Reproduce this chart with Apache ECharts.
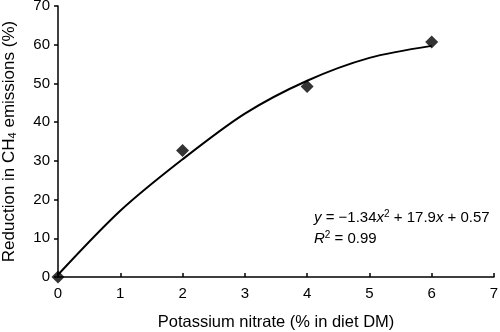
<!DOCTYPE html>
<html>
<head>
<meta charset="utf-8">
<script src="https://cdn.jsdelivr.net/npm/echarts@6/dist/echarts.min.js"></script>
<style>
  html, body { margin: 0; padding: 0; background: #fff; }
  #main { width: 500px; height: 332px; }
</style>
</head>
<body>
<div id="main"></div>
<script>
// measured points
var doses = [0, 2, 4, 6];
var reduction = [0, 32.7, 49.2, 60.7];

// fitted curve
var curveX = [0, 1, 2, 3, 4, 5, 6];
var curveY = [0.57, 17.1, 30.4, 42.2, 50.7, 56.6, 59.7];

var xTicks = [0, 1, 2, 3, 4, 5, 6, 7];
var yTicks = [0, 10, 20, 30, 40, 50, 60, 70];

var font = 'Liberation Sans, Arial, sans-serif';

var myChart = echarts.init(document.getElementById('main'));

var option = {
    animation: false,
    grid: { left: 58, right: 6, top: 6, bottom: 55, outerBoundsMode: 'none' },
    xAxis: {
        type: 'value',
        min: xTicks[0],
        max: xTicks[xTicks.length - 1],
        interval: 1,
        name: 'Potassium nitrate (% in diet DM)',
        nameLocation: 'middle',
        nameGap: 37,
        nameTextStyle: { fontFamily: font, fontSize: 16.5, color: '#000' },
        axisLine: { lineStyle: { color: '#000', width: 1.5 } },
        axisTick: { inside: true, length: 4, lineStyle: { color: '#000', width: 1.5 } },
        axisLabel: { fontFamily: font, fontSize: 15, color: '#000', margin: 9 },
        splitLine: { show: false }
    },
    yAxis: {
        type: 'value',
        min: yTicks[0],
        max: yTicks[yTicks.length - 1],
        interval: 10,
        name: '{a|Reduction in CH}{s|4}{a| emissions (%)}',
        nameLocation: 'middle',
        nameGap: 40,
        nameTextStyle: {
            fontFamily: font, fontSize: 17, color: '#000',
            rich: {
                a: { fontFamily: font, fontSize: 17, color: '#000' },
                s: { fontFamily: font, fontSize: 11, color: '#000', padding: [7, 0, 0, 0] }
            }
        },
        axisLine: { lineStyle: { color: '#000', width: 1.5 } },
        axisTick: { length: 4, lineStyle: { color: '#000', width: 1.5 } },
        axisLabel: { fontFamily: font, fontSize: 15, color: '#000', margin: 8 },
        splitLine: { show: false }
    },
    series: [
        {
            type: 'line',
            data: curveX.map(function (x, i) { return [x, curveY[i]]; }),
            smooth: 0.3,
            symbol: 'none',
            lineStyle: { color: '#000', width: 2 }
        },
        {
            type: 'scatter',
            data: doses.map(function (x, i) { return [x, reduction[i]]; }),
            symbol: 'diamond',
            symbolSize: 13,
            itemStyle: { color: '#000' }
        }
    ],
    graphic: [
        {
            type: 'text',
            left: 314,
            top: 209,
            style: {
                text: '{i|y} = \u22121.34{i|x}{p|2} + 17.9{i|x} + 0.57',
                fontFamily: font, fontSize: 15, fill: '#000',
                rich: {
                    i: { fontFamily: font, fontSize: 15, fontStyle: 'italic', color: '#000' },
                    p: { fontFamily: font, fontSize: 10, color: '#000', padding: [0, 0, 8, 0] }
                }
            }
        },
        {
            type: 'text',
            left: 314,
            top: 230,
            style: {
                text: '{i|R}{p|2} = 0.99',
                fontFamily: font, fontSize: 15, fill: '#000',
                rich: {
                    i: { fontFamily: font, fontSize: 15, fontStyle: 'italic', color: '#000' },
                    p: { fontFamily: font, fontSize: 10, color: '#000', padding: [0, 0, 8, 0] }
                }
            }
        }
    ]
};
myChart.setOption(option);
</script>
</body>
</html>
